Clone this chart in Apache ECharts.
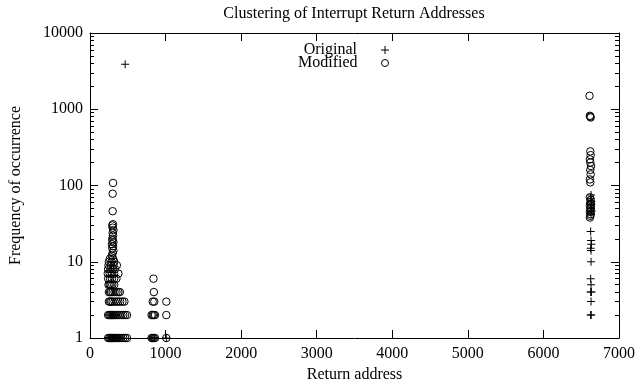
<!DOCTYPE html>
<html>
<head>
<meta charset="utf-8">
<script src="https://cdn.jsdelivr.net/npm/echarts@6/dist/echarts.min.js"></script>
<style>
html,body{margin:0;padding:0;background:#fff;}
#chart{width:638px;height:388px;}
</style>
</head>
<body>
<div id="chart"></div>
<script>
// ---- Data ----
const chartTitle = 'Clustering of Interrupt Return Addresses';
const xAxisName = 'Return address';
const yAxisName = 'Frequency of occurrence';
const seriesNames = ['Original', 'Modified'];

const xTicks = [0, 1000, 2000, 3000, 4000, 5000, 6000, 7000];
const yMajorTicks = [1, 10, 100, 1000, 10000];

// Original (+) : [return address, frequency]
const originalLeft = [
  [465, 3900],
  [250, 1], [265, 1], [280, 1], [295, 1], [310, 1], [325, 1], [340, 1], [355, 1], [370, 1], [385, 1], [410, 1],
  [270, 2], [300, 2], [330, 2],
  [820, 1], [835, 1], [850, 1], [1010, 1]
];
const originalRight = [
  [6630, 75], [6625, 68], [6635, 62], [6630, 56], [6625, 50], [6635, 46], [6630, 42],
  [6625, 25], [6630, 19], [6635, 17], [6625, 15], [6630, 14], [6630, 10],
  [6625, 6], [6630, 5], [6635, 4], [6625, 4], [6630, 3], [6625, 2], [6632, 2]
];

// Modified (o) : [return address, frequency]
const modifiedLeft = [
  [240, 1], [255, 1], [270, 1], [285, 1], [300, 1], [315, 1], [330, 1], [345, 1], [360, 1], [390, 1], [415, 1], [440, 1], [465, 1], [490, 1],
  [240, 2], [255, 2], [270, 2], [285, 2], [300, 2], [315, 2], [330, 2], [345, 2], [365, 2], [390, 2], [415, 2], [440, 2], [465, 2], [490, 2],
  [250, 3], [265, 3], [280, 3], [300, 3], [325, 3], [350, 3], [375, 3], [400, 3], [430, 3], [455, 3],
  [250, 4], [265, 4], [280, 4], [300, 4], [325, 4], [350, 4], [375, 4], [395, 4],
  [245, 5], [260, 5], [275, 5], [295, 5], [320, 5],
  [240, 6], [265, 6], [290, 6], [320, 6], [350, 6],
  [235, 7], [260, 7], [290, 7], [320, 7], [375, 7],
  [240, 8], [270, 8], [300, 8], [330, 8],
  [245, 9], [275, 9], [310, 9], [355, 9],
  [250, 10], [285, 10], [320, 10],
  [265, 11], [305, 11],
  [290, 12], [300, 13], [310, 14], [295, 15], [305, 16], [290, 17], [310, 18], [300, 19],
  [295, 20], [305, 22], [300, 24], [310, 26], [300, 28], [295, 30], [305, 31],
  [300, 46], [300, 78], [305, 108]
];
const modifiedMiddle = [
  [815, 1], [830, 1], [845, 1], [860, 1], [815, 2], [830, 2], [845, 2], [860, 2],
  [830, 3], [850, 3], [845, 4], [840, 6],
  [1010, 1], [1010, 2], [1010, 3]
];
const modifiedRight = [
  [6610, 1500], [6615, 820], [6620, 800], [6625, 780],
  [6620, 280], [6625, 250], [6615, 220], [6620, 200], [6630, 180], [6620, 160], [6625, 140], [6615, 120], [6620, 110],
  [6615, 70], [6625, 65], [6620, 60], [6630, 57], [6615, 55], [6625, 52], [6620, 50], [6630, 47], [6615, 45], [6625, 42], [6620, 40], [6615, 38]
];

// ---- Chart ----
const FONT = 'Liberation Serif';
const plusPath = 'path://M3.5,0h1v8h-1zM0,3.5h8v1h-8z';
const yMinorTicks = [];
yMajorTicks.slice(0, -1).forEach(function (d) {
  for (let k = 2; k <= 9; k++) yMinorTicks.push(d * k);
});
const plainNum = function (v) { return String(Math.round(v)); };

const chart = echarts.init(document.getElementById('chart'), null, {renderer: 'canvas'});

const lineStyle = {color: '#000', width: 1};
function xAxisDef(pos, labels) {
  return {
    type: 'value', position: pos, min: xTicks[0], max: xTicks[xTicks.length - 1], interval: 1000,
    axisLine: {show: true, onZero: false, lineStyle: lineStyle},
    axisTick: {show: true, inside: true, length: 8, lineStyle: lineStyle},
    axisLabel: {show: labels, color: '#000', fontFamily: FONT, fontSize: 16, margin: 8, formatter: plainNum},
    splitLine: {show: false},
    name: labels ? xAxisName : '',
    nameLocation: 'middle', nameGap: 28,
    nameTextStyle: {color: '#000', fontFamily: FONT, fontSize: 16}
  };
}
function yAxisDef(pos, major, labels) {
  const a = {
    type: 'log', logBase: 10, position: pos, min: 1, max: 10000,
    axisLine: {show: major, onZero: false, lineStyle: lineStyle},
    axisTick: {show: true, inside: true, length: major ? 8 : 4, lineStyle: lineStyle,
      customValues: major ? yMajorTicks : yMinorTicks},
    axisLabel: {show: labels, color: '#000', fontFamily: FONT, fontSize: 16, margin: 7,
      customValues: yMajorTicks, formatter: plainNum},
    splitLine: {show: false}
  };
  if (labels) {
    a.name = yAxisName;
    a.nameLocation = 'middle';
    a.nameGap = 66;
    a.nameTextStyle = {color: '#000', fontFamily: FONT, fontSize: 16};
  }
  return a;
}

const legendCommon = {
  orient: 'vertical', align: 'right', right: 249, padding: 0,
  itemWidth: 8, itemHeight: 8, selectedMode: false,
  formatter: '{t|{name}}',
  textStyle: {color: '#000', fontFamily: FONT, fontSize: 16,
    rich: {t: {fontFamily: FONT, fontSize: 16, color: '#000', padding: [0, 19, 0, 0]}}}
};

chart.setOption({
  animation: false,
  backgroundColor: '#fff',
  title: {
    text: chartTitle, left: 354, top: 6, textAlign: 'center', padding: 0,
    textStyle: {color: '#000', fontFamily: FONT, fontSize: 16, fontWeight: 'normal'}
  },
  legend: [
    Object.assign({}, legendCommon, {top: 42, data: [{name: seriesNames[0], icon: plusPath,
      itemStyle: {color: '#000', borderWidth: 0}}]}),
    Object.assign({}, legendCommon, {top: 55, itemWidth: 7, itemHeight: 7,
      data: [{name: seriesNames[1], icon: 'circle',
      itemStyle: {color: 'rgba(0,0,0,0)', borderColor: '#000', borderWidth: 1}}]})
  ],
  grid: {left: 88, right: 18, top: 33, bottom: 50, containLabel: false},
  xAxis: [xAxisDef('bottom', true), xAxisDef('top', false)],
  yAxis: [yAxisDef('left', true, true), yAxisDef('left', false, false),
          yAxisDef('right', true, false), yAxisDef('right', false, false)],
  series: [
    {
      name: seriesNames[0], type: 'scatter', xAxisIndex: 0, yAxisIndex: 0,
      symbol: plusPath, symbolSize: 8,
      itemStyle: {color: '#000', opacity: 1},
      data: originalLeft.concat(originalRight)
    },
    {
      name: seriesNames[1], type: 'scatter', xAxisIndex: 0, yAxisIndex: 0,
      symbol: 'circle', symbolSize: 7.5,
      itemStyle: {color: 'rgba(0,0,0,0)', borderColor: '#000', borderWidth: 1, opacity: 1},
      data: modifiedLeft.concat(modifiedMiddle, modifiedRight)
    }
  ]
});
</script>
</body>
</html>
